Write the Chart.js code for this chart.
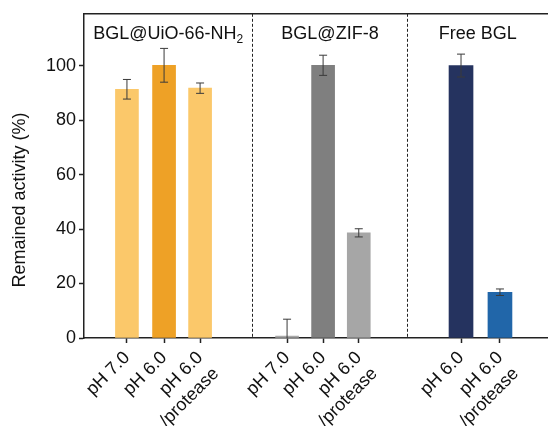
<!DOCTYPE html>
<html>
<head>
<meta charset="utf-8">
<script src="https://cdn.jsdelivr.net/npm/chart.js@4.4.1/dist/chart.umd.min.js"></script>
<style>
  html, body { margin: 0; padding: 0; background: #fff; }
  #wrap { width: 548px; height: 426px; position: relative; }
</style>
</head>
<body>
<div id="wrap"><canvas id="activityChart"></canvas></div>
<script>
/* --------------- Data --------------------- */
const groupNames = ["BGL@UiO-66-NH", "BGL@ZIF-8", "Free BGL"];
const uioLabels = [["pH 7.0"], ["pH 6.0"], ["pH 6.0", "/protease"]];
const zifLabels = [["pH 7.0"], ["pH 6.0"], ["pH 6.0", "/protease"]];
const freeLabels = [["pH 6.0"], ["pH 6.0", "/protease"]];
const uioValues = [91.3, 100.1, 91.7];
const uioErrors = [3.6, 6.2, 1.9];
const zifValues = [0.7, 100.1, 38.6];
const zifErrors = [6.2, 3.7, 1.5];
const freeValues = [100.0, 16.8];
const freeErrors = [4.2, 1.2];
const yTicks = [0, 20, 40, 60, 80, 100];

/* --------------- Layout (slot positions along the x axis) --------------------- */
const uioSlots = [1.18, 2.2, 3.19];
const zifSlots = [5.58, 6.57, 7.55];
const freeSlots = [10.36, 11.43];
const dividers = [4.62, 8.87];
const xMax = 12.75;

/* --------------- Colors --------------------- */
const uioColors = ["#fbc86a", "#eea126", "#fbc86a"];
const zifColors = ["#a8a8a8", "#7f7f7f", "#a6a6a6"];
const freeColors = ["#25335f", "#2166a9"];

const font = "'Liberation Sans', Arial, Helvetica, sans-serif";
const allSlots = [...uioSlots, ...zifSlots, ...freeSlots];
const allLabels = [...uioLabels, ...zifLabels, ...freeLabels];
const allErrors = [uioErrors, zifErrors, freeErrors];

const toPoints = (slots, values) => slots.map((x, i) => ({ x: x, y: values[i] }));

/* --------------- Error bars, dividers, titles --------------------- */
const decorations = {
  id: "decorations",
  afterDatasetsDraw(chart) {
    const { ctx, chartArea, scales } = chart;
    const y = scales.y;
    ctx.save();
    ctx.beginPath();
    ctx.rect(chartArea.left, chartArea.top, chartArea.right - chartArea.left, chartArea.bottom - chartArea.top);
    ctx.clip();
    ctx.strokeStyle = "#3a3a3a";
    ctx.lineWidth = 1;
    chart.data.datasets.forEach((ds, d) => {
      const meta = chart.getDatasetMeta(d);
      meta.data.forEach((bar, i) => {
        const v = ds.data[i].y;
        const e = allErrors[d][i];
        const top = y.getPixelForValue(v + e);
        const bot = y.getPixelForValue(v - e);
        ctx.beginPath();
        ctx.moveTo(bar.x, top);
        ctx.lineTo(bar.x, bot);
        ctx.moveTo(bar.x - 4, top);
        ctx.lineTo(bar.x + 4, top);
        ctx.moveTo(bar.x - 4, bot);
        ctx.lineTo(bar.x + 4, bot);
        ctx.stroke();
      });
    });
    ctx.restore();
  },
  afterDraw(chart) {
    const { ctx, chartArea, scales } = chart;
    const x = scales.x;
    ctx.save();
    // top frame line
    ctx.strokeStyle = "#222";
    ctx.lineWidth = 1.5;
    ctx.beginPath();
    ctx.moveTo(chartArea.left, chartArea.top);
    ctx.lineTo(chartArea.right, chartArea.top);
    ctx.stroke();
    // dashed dividers
    ctx.lineWidth = 1;
    ctx.setLineDash([3, 2]);
    const edges = [chartArea.left];
    dividers.forEach((d) => {
      const px = Math.round(x.getPixelForValue(d)) + 0.5;
      edges.push(px);
      ctx.beginPath();
      ctx.moveTo(px, chartArea.top);
      ctx.lineTo(px, chartArea.bottom);
      ctx.stroke();
    });
    edges.push(chartArea.right);
    ctx.setLineDash([]);
    // group titles
    ctx.fillStyle = "#111";
    ctx.textBaseline = "alphabetic";
    groupNames.forEach((name, g) => {
      const cx = (edges[g] + edges[g + 1]) / 2;
      const base = chartArea.top + 25;
      if (g === 0) {
        ctx.font = "18px " + font;
        const w1 = ctx.measureText(name).width;
        ctx.font = "12px " + font;
        const w2 = ctx.measureText("2").width;
        const start = cx - (w1 + w2) / 2;
        ctx.textAlign = "left";
        ctx.font = "18px " + font;
        ctx.fillText(name, start, base);
        ctx.font = "12px " + font;
        ctx.fillText("2", start + w1, base + 4);
      } else {
        ctx.font = "18px " + font;
        ctx.textAlign = "center";
        ctx.fillText(name, cx, base);
      }
    });
    // y axis title
    ctx.translate(20, 200);
    ctx.rotate(-Math.PI / 2);
    ctx.textAlign = "center";
    ctx.textBaseline = "middle";
    ctx.font = "18px " + font;
    ctx.fillText("Remained activity (%)", 0, 0);
    ctx.restore();
  },
};

/* --------------- Chart --------------------- */
const activityChart = new Chart(document.getElementById("activityChart"), {
  type: "bar",
  plugins: [decorations],
  data: {
    datasets: [
      { data: toPoints(uioSlots, uioValues), backgroundColor: uioColors, barThickness: 23 },
      { data: toPoints(zifSlots, zifValues), backgroundColor: zifColors, barThickness: 23 },
      { data: toPoints(freeSlots, freeValues), backgroundColor: freeColors, barThickness: 24 },
    ],
  },
  options: {
    responsive: true,
    maintainAspectRatio: false,
    animation: false,
    layout: { padding: { top: 12, left: 0, right: 0, bottom: 0 } },
    datasets: { bar: { grouped: false } },
    plugins: {
      legend: { display: false },
      tooltip: { enabled: false },
    },
    scales: {
      x: {
        type: "linear",
        min: 0,
        max: xMax,
        offset: false,
        afterBuildTicks: (scale) => {
          scale.ticks = allSlots.map((v) => ({ value: v }));
        },
        afterFit: (scale) => {
          scale.height = 88;
        },
        grid: { offset: false, drawOnChartArea: false, drawTicks: true, tickLength: 5, tickColor: "#222", tickWidth: 1.5 },
        border: { color: "#222", width: 1.5 },
        ticks: {
          autoSkip: false,
          maxRotation: 45,
          minRotation: 45,
          padding: 4,
          color: "#111",
          font: { family: font, size: 18, lineHeight: 1.25 },
          callback: (value, index) => allLabels[index],
        },
      },
      y: {
        min: 0,
        max: 119,
        afterBuildTicks: (scale) => {
          scale.ticks = yTicks.map((v) => ({ value: v }));
        },
        afterFit: (scale) => {
          scale.width = 84;
        },
        grid: { drawOnChartArea: false, drawTicks: true, tickLength: 5, tickColor: "#222", tickWidth: 1.5 },
        border: { color: "#222", width: 1.5 },
        ticks: {
          padding: 3,
          color: "#111",
          font: { family: font, size: 18 },
        },
      },
    },
  },
});
</script>
</body>
</html>
